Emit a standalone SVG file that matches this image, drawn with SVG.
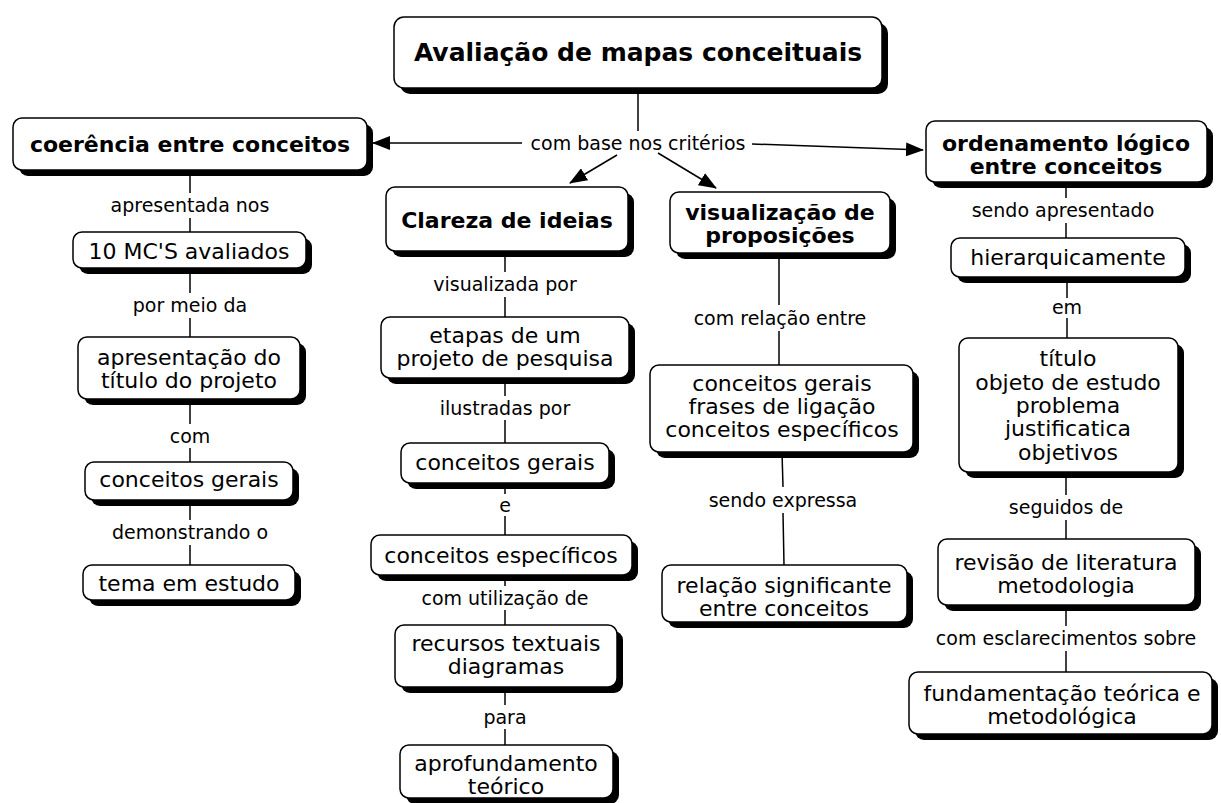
<svg xmlns="http://www.w3.org/2000/svg" width="1221" height="803" viewBox="0 0 1221 803">
<style>
.sh{fill:#000}
.bx{fill:#fff;stroke:#000;stroke-width:1.5}
text{font-family:"DejaVu Sans",Verdana,sans-serif;text-anchor:middle;fill:#000}
.n{font-size:22px}
.b{font-size:22px;font-weight:bold}
.r{font-size:25px;font-weight:bold}
.l{font-size:19px}
#connectors line{stroke:#000;stroke-width:1.5;fill:none}
</style>
<defs>
<marker id="ar" markerUnits="userSpaceOnUse" markerWidth="18" markerHeight="14" refX="17" refY="7" orient="auto">
<path d="M0,0 L18,7 L0,14 Z" fill="#000"/>
</marker>
</defs>
<rect width="1221" height="803" fill="#fff"/>
<g id="connectors">
<line x1="638" y1="88" x2="638" y2="131"/>
<line x1="522" y1="143" x2="373" y2="143" marker-end="url(#ar)"/>
<line x1="752" y1="144" x2="923" y2="150" marker-end="url(#ar)"/>
<line x1="617" y1="155" x2="570" y2="183" marker-end="url(#ar)"/>
<line x1="658" y1="153" x2="716" y2="188" marker-end="url(#ar)"/>
<line x1="190" y1="170" x2="190" y2="193"/>
<line x1="190" y1="218" x2="190" y2="232"/>
<line x1="190" y1="268" x2="190" y2="293"/>
<line x1="190" y1="318" x2="190" y2="337"/>
<line x1="190" y1="399" x2="190" y2="424"/>
<line x1="190" y1="448" x2="190" y2="462"/>
<line x1="190" y1="500" x2="190" y2="520"/>
<line x1="190" y1="545" x2="190" y2="565"/>
<line x1="505" y1="251" x2="505" y2="272"/>
<line x1="505" y1="297" x2="505" y2="317"/>
<line x1="505" y1="378" x2="505" y2="396"/>
<line x1="505" y1="420" x2="505" y2="443"/>
<line x1="505" y1="483" x2="505" y2="494"/>
<line x1="505" y1="516" x2="505" y2="535"/>
<line x1="505" y1="575" x2="505" y2="586"/>
<line x1="505" y1="610" x2="505" y2="625"/>
<line x1="505" y1="687" x2="505" y2="705"/>
<line x1="505" y1="729" x2="505" y2="745"/>
<line x1="779" y1="253" x2="779" y2="305"/>
<line x1="779" y1="331" x2="779" y2="365"/>
<line x1="782" y1="452" x2="783" y2="487"/>
<line x1="783" y1="513" x2="784" y2="565"/>
<line x1="1066" y1="182" x2="1066" y2="198"/>
<line x1="1066" y1="223" x2="1066" y2="238"/>
<line x1="1067" y1="277" x2="1067" y2="298"/>
<line x1="1067" y1="318" x2="1067" y2="338"/>
<line x1="1066" y1="472" x2="1066" y2="495"/>
<line x1="1066" y1="520" x2="1066" y2="539"/>
<line x1="1066" y1="605" x2="1066" y2="626"/>
<line x1="1066" y1="651" x2="1066" y2="672"/>
</g>
<g id="labels">
<text class="l" x="638" y="150">com base nos critérios</text>
<text class="l" x="190" y="212">apresentada nos</text>
<text class="l" x="190" y="312">por meio da</text>
<text class="l" x="190" y="443">com</text>
<text class="l" x="190" y="539">demonstrando o</text>
<text class="l" x="505" y="291">visualizada por</text>
<text class="l" x="505" y="415">ilustradas por</text>
<text class="l" x="505" y="512">e</text>
<text class="l" x="505" y="605">com utilização de</text>
<text class="l" x="505" y="724">para</text>
<text class="l" x="780" y="325">com relação entre</text>
<text class="l" x="783" y="507">sendo expressa</text>
<text class="l" x="1063" y="217">sendo apresentado</text>
<text class="l" x="1067" y="314">em</text>
<text class="l" x="1066" y="514">seguidos de</text>
<text class="l" x="1066" y="645">com esclarecimentos sobre</text>
</g>
<g id="n-root">
<rect class="sh" x="400" y="23" width="488" height="71" rx="10"/>
<rect class="bx" x="394" y="17" width="488" height="71" rx="10"/>
<text class="r" x="638" y="61">Avaliação de mapas conceituais</text>
</g>
<g id="n-coerencia">
<rect class="sh" x="19" y="124" width="354" height="52" rx="9"/>
<rect class="bx" x="13" y="118" width="354" height="52" rx="9"/>
<text class="b" x="190" y="152">coerência entre conceitos</text>
</g>
<g id="n-10mcs">
<rect class="sh" x="79" y="238" width="233" height="36" rx="9"/>
<rect class="bx" x="73" y="232" width="233" height="36" rx="9"/>
<text class="n" x="189" y="259">10 MC'S avaliados</text>
</g>
<g id="n-apresentacao">
<rect class="sh" x="84" y="343" width="222" height="62" rx="9"/>
<rect class="bx" x="78" y="337" width="222" height="62" rx="9"/>
<text class="n" x="189" y="365">apresentação do</text>
<text class="n" x="189" y="388">título do projeto</text>
</g>
<g id="n-conceitos-gerais-1">
<rect class="sh" x="91" y="468" width="208" height="38" rx="9"/>
<rect class="bx" x="85" y="462" width="208" height="38" rx="9"/>
<text class="n" x="189" y="487">conceitos gerais</text>
</g>
<g id="n-tema">
<rect class="sh" x="89" y="571" width="212" height="35" rx="9"/>
<rect class="bx" x="83" y="565" width="212" height="35" rx="9"/>
<text class="n" x="189" y="591">tema em estudo</text>
</g>
<g id="n-clareza">
<rect class="sh" x="392" y="193" width="242" height="64" rx="9"/>
<rect class="bx" x="386" y="187" width="242" height="64" rx="9"/>
<text class="b" x="507" y="228">Clareza de ideias</text>
</g>
<g id="n-etapas">
<rect class="sh" x="387" y="323" width="248" height="61" rx="9"/>
<rect class="bx" x="381" y="317" width="248" height="61" rx="9"/>
<text class="n" x="505" y="343">etapas de um</text>
<text class="n" x="505" y="366">projeto de pesquisa</text>
</g>
<g id="n-conceitos-gerais-2">
<rect class="sh" x="407" y="449" width="208" height="40" rx="9"/>
<rect class="bx" x="401" y="443" width="208" height="40" rx="9"/>
<text class="n" x="505" y="470">conceitos gerais</text>
</g>
<g id="n-conceitos-especificos">
<rect class="sh" x="377" y="541" width="261" height="40" rx="9"/>
<rect class="bx" x="371" y="535" width="261" height="40" rx="9"/>
<text class="n" x="501" y="563">conceitos específicos</text>
</g>
<g id="n-recursos">
<rect class="sh" x="401" y="631" width="222" height="62" rx="9"/>
<rect class="bx" x="395" y="625" width="222" height="62" rx="9"/>
<text class="n" x="506" y="651">recursos textuais</text>
<text class="n" x="506" y="674">diagramas</text>
</g>
<g id="n-aprofundamento">
<rect class="sh" x="406" y="751" width="213" height="53" rx="9"/>
<rect class="bx" x="400" y="745" width="213" height="53" rx="9"/>
<text class="n" x="506" y="771">aprofundamento</text>
<text class="n" x="506" y="794">teórico</text>
</g>
<g id="n-visualizacao">
<rect class="sh" x="676" y="198" width="220" height="61" rx="9"/>
<rect class="bx" x="670" y="192" width="220" height="61" rx="9"/>
<text class="b" x="780" y="220">visualização de</text>
<text class="b" x="780" y="243">proposições</text>
</g>
<g id="n-conceitos-frases">
<rect class="sh" x="656" y="371" width="263" height="87" rx="9"/>
<rect class="bx" x="650" y="365" width="263" height="87" rx="9"/>
<text class="n" x="782" y="391">conceitos gerais</text>
<text class="n" x="782" y="414">frases de ligação</text>
<text class="n" x="782" y="437">conceitos específicos</text>
</g>
<g id="n-relacao">
<rect class="sh" x="668" y="571" width="245" height="57" rx="9"/>
<rect class="bx" x="662" y="565" width="245" height="57" rx="9"/>
<text class="n" x="784" y="593">relação significante</text>
<text class="n" x="784" y="616">entre conceitos</text>
</g>
<g id="n-ordenamento">
<rect class="sh" x="932" y="127" width="281" height="61" rx="9"/>
<rect class="bx" x="926" y="121" width="281" height="61" rx="9"/>
<text class="b" x="1066" y="151">ordenamento lógico</text>
<text class="b" x="1066" y="174">entre conceitos</text>
</g>
<g id="n-hierarquicamente">
<rect class="sh" x="957" y="244" width="234" height="39" rx="9"/>
<rect class="bx" x="951" y="238" width="234" height="39" rx="9"/>
<text class="n" x="1068" y="265">hierarquicamente</text>
</g>
<g id="n-titulo">
<rect class="sh" x="965" y="344" width="219" height="134" rx="9"/>
<rect class="bx" x="959" y="338" width="219" height="134" rx="9"/>
<text class="n" x="1068" y="366">título</text>
<text class="n" x="1068" y="390">objeto de estudo</text>
<text class="n" x="1068" y="413">problema</text>
<text class="n" x="1068" y="436">justificatica</text>
<text class="n" x="1068" y="460">objetivos</text>
</g>
<g id="n-revisao">
<rect class="sh" x="944" y="545" width="257" height="66" rx="9"/>
<rect class="bx" x="938" y="539" width="257" height="66" rx="9"/>
<text class="n" x="1066" y="570">revisão de literatura</text>
<text class="n" x="1066" y="593">metodologia</text>
</g>
<g id="n-fundamentacao">
<rect class="sh" x="915" y="678" width="303" height="62" rx="9"/>
<rect class="bx" x="909" y="672" width="303" height="62" rx="9"/>
<text class="n" x="1062" y="701">fundamentação teórica e</text>
<text class="n" x="1062" y="724">metodológica</text>
</g>
</svg>
